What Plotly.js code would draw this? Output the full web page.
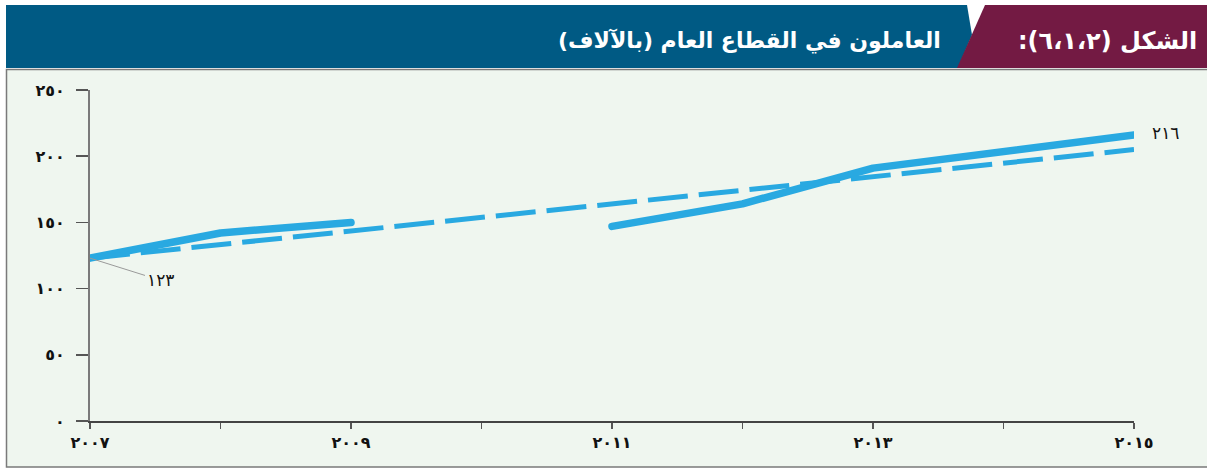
<!DOCTYPE html>
<html>
<head>
<meta charset="utf-8">
<script src="https://cdn.plot.ly/plotly-3.0.1.min.js"></script>
<style>
html,body{margin:0;padding:0;background:#fff;}
#chart{width:1207px;height:469px;}
.scatterlayer .trace:first-child path.js-line{stroke-linecap:round;stroke-linejoin:round;}
</style>
</head>
<body>
<div id="chart"></div>
<script>
// ---- data ----
const years = [2007, 2008, 2009, 2010, 2011, 2012, 2013, 2014, 2015];
const employees = [123, 142, 150, null, 147, 164, 191, 204, 216];
const trendYears = [2007, 2015];
const trendValues = [123, 205];
const xTickVals = [2007, 2008, 2009, 2010, 2011, 2012, 2013, 2014, 2015];
const xTickText = ['٢٠٠٧', '', '٢٠٠٩', '', '٢٠١١', '', '٢٠١٣', '', '٢٠١٥'];
const yTickVals = [0, 50, 100, 150, 200, 250];
const yTickText = ['٠', '٥٠', '١٠٠', '١٥٠', '٢٠٠', '٢٥٠'];
const startLabel = '١٢٣';
const endLabel = '٢١٦';
const figureLabel = '\u200Fالشكل (٦،١،٢):\u200F';
const titleText = '\u200Fالعاملون في القطاع العام (بالآلاف)\u200F';

// ---- geometry helpers (pixel -> paper) ----
const L = 90, R = 1134, T = 90, B = 421;
const W = 1207, H = 469;
const px = x => (x - L) / (R - L);
const py = y => (B - y) / (B - T);
function path(points) {
  return 'M' + points.map(p => px(p[0]) + ',' + py(p[1])).join(' L') + ' Z';
}
function openPath(points) {
  return 'M' + points.map(p => px(p[0]) + ',' + py(p[1])).join(' L');
}

const FONT = '"DejaVu Sans", "Noto Sans", sans-serif';
const lineBlue = '#29a9e1';

const traces = [
  {
    x: years, y: employees, type: 'scatter', mode: 'lines',
    line: {color: lineBlue, width: 7.5},
    connectgaps: false, hoverinfo: 'skip'
  },
  {
    x: trendYears, y: trendValues, type: 'scatter', mode: 'lines',
    line: {color: lineBlue, width: 5, dash: '40px,11px'},
    hoverinfo: 'skip'
  }
];

const shapes = [
  // light background frame
  {type: 'rect', xref: 'paper', yref: 'paper', layer: 'below',
   x0: px(6), x1: px(1207), y0: py(467), y1: py(69),
   fillcolor: '#eff6ef', line: {width: 0}},
  // frame border (top, left, bottom)
  {type: 'path', xref: 'paper', yref: 'paper', layer: 'below',
   path: openPath([[1207, 69.5], [6.5, 69.5], [6.5, 467], [1207, 467]]),
   line: {color: '#7a7a7a', width: 1.5}},
  // blue header
  {type: 'path', xref: 'paper', yref: 'paper', layer: 'above',
   path: path([[6, 5], [967, 5], [972, 35], [958, 68], [6, 68]]),
   fillcolor: '#005a84', line: {width: 0}},
  // maroon header
  {type: 'path', xref: 'paper', yref: 'paper', layer: 'above',
   path: path([[985, 5], [1207, 5], [1207, 68], [957, 68]]),
   fillcolor: '#731a43', line: {width: 0}}
];

const annotations = [
  {xref: 'paper', yref: 'paper', x: px(1199), y: py(41), xanchor: 'right', yanchor: 'middle',
   text: figureLabel, showarrow: false,
   font: {family: FONT, size: 24, color: '#ffffff', weight: 'bold'}},
  {xref: 'paper', yref: 'paper', x: px(943), y: py(41), xanchor: 'right', yanchor: 'middle',
   text: titleText, showarrow: false,
   font: {family: FONT, size: 22, color: '#ffffff', weight: 'bold'}},
  {x: trendYears[0], y: employees[0], text: startLabel, showarrow: true,
   arrowhead: 0, arrowwidth: 1, arrowcolor: '#9a9a9a', ax: 70, ay: 22,
   font: {family: FONT, size: 17, color: '#111'}},
  {x: years[years.length - 1], y: employees[employees.length - 1], text: endLabel,
   showarrow: false, xanchor: 'left', xshift: 16, yshift: 2,
   font: {family: FONT, size: 17, color: '#111'}}
];

const layout = {
  width: W, height: H,
  margin: {l: L, r: W - R, t: T, b: H - B, pad: 0},
  paper_bgcolor: '#ffffff',
  plot_bgcolor: 'rgba(0,0,0,0)',
  showlegend: false,
  xaxis: {
    range: [2007, 2015], tickvals: xTickVals, ticktext: xTickText,
    showgrid: false, zeroline: false, showline: true,
    linecolor: '#444', linewidth: 2,
    ticks: 'outside', ticklen: 6, tickwidth: 1.5, tickcolor: '#555',
    tickfont: {family: FONT, size: 16, color: '#111', weight: 'bold'}
  },
  yaxis: {
    range: [0, 250], tickvals: yTickVals, ticktext: yTickText,
    showgrid: false, zeroline: false, showline: true,
    linecolor: '#7a7a7a', linewidth: 2,
    ticks: 'outside', ticklen: 12, tickwidth: 1.5, tickcolor: '#555',
    ticklabelstandoff: 8,
    tickfont: {family: FONT, size: 16, color: '#111', weight: 'bold'}
  },
  shapes: shapes,
  annotations: annotations
};

Plotly.newPlot('chart', traces, layout, {staticPlot: true, displayModeBar: false});
</script>
</body>
</html>
